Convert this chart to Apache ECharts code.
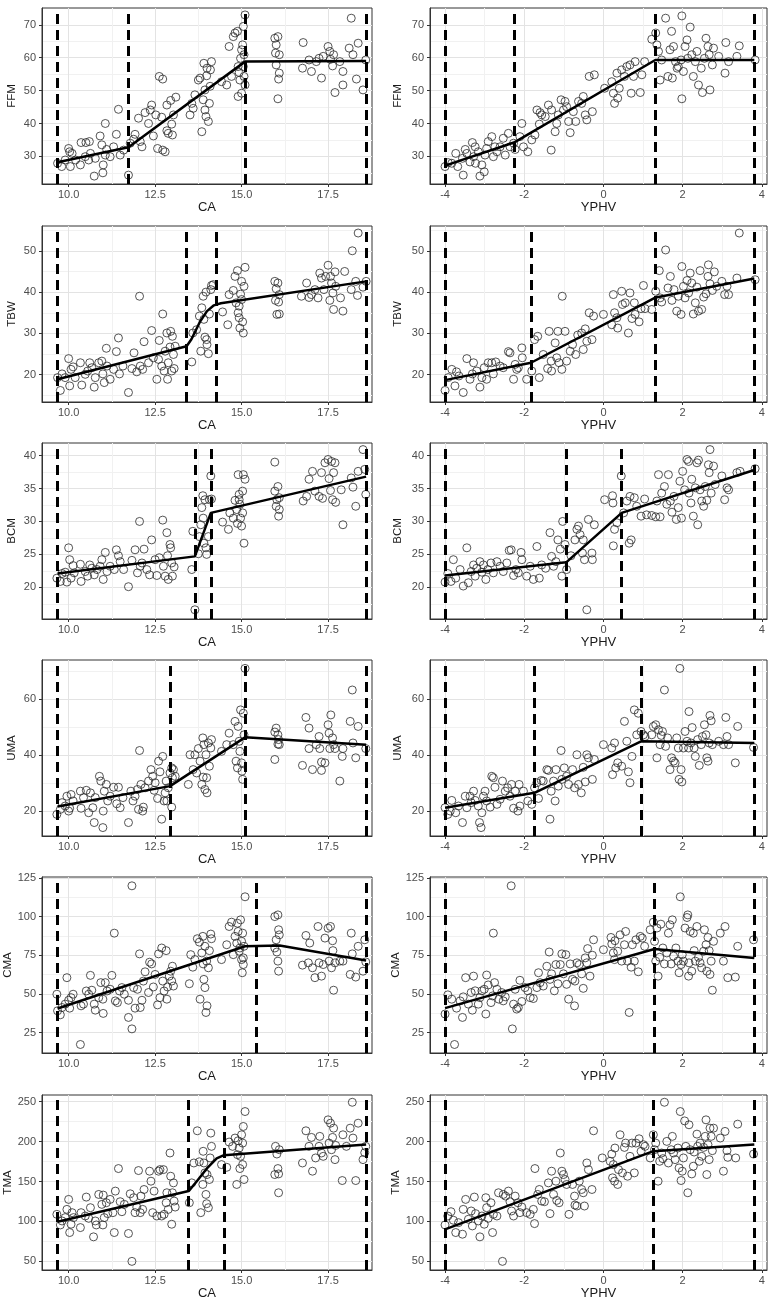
<!DOCTYPE html>
<html>
<head>
<meta charset="utf-8">
<script src="https://cdn.jsdelivr.net/npm/echarts@6/dist/echarts.min.js"></script>
<style>
html,body{margin:0;padding:0;background:#fff;}
#chart{width:774px;height:1301px;}
</style>
</head>
<body>
<div id="chart"></div>
<script>
// ---------- tick labels ----------
const xTicksCA = [10, 12.5, 15, 17.5];
const xMinorCA = [11.25, 13.75, 16.25];
const xTicksYPHV = [-4, -2, 0, 2, 4];
const xMinorYPHV = [-3, -1, 1, 3];
const yTicksFFM = [30, 40, 50, 60, 70];   const yMinorFFM = [25, 35, 45, 55, 65];
const yTicksTBW = [20, 30, 40, 50];       const yMinorTBW = [15, 25, 35, 45, 55];
const yTicksBCM = [20, 25, 30, 35, 40];   const yMinorBCM = [17.5, 22.5, 27.5, 32.5, 37.5];
const yTicksUMA = [20, 40, 60];           const yMinorUMA = [30, 50, 70];
const yTicksCMA = [25, 50, 75, 100, 125]; const yMinorCMA = [37.5, 62.5, 87.5, 112.5];
const yTicksTMA = [50, 100, 150, 200, 250]; const yMinorTMA = [75, 125, 175, 225];

// ---------- scatter data ----------
const ffmCA = [[9.68,27.9],[9.8,26.9],[9.9,28.9],[10.0,32.4],[10.03,31.4],[10.1,30.9],[10.05,26.9],[10.2,28.9],[10.34,27.4],[10.36,34.2],[10.48,29.9],[10.5,34.2],[10.6,34.5],[10.58,28.9],[10.63,30.9],[10.74,24.0],[10.77,29.4],[10.91,36.2],[10.96,33.5],[10.99,25.0],[11.0,27.4],[11.06,40.0],[11.06,30.4],[11.1,32.1],[11.2,29.9],[11.3,32.9],[11.38,36.7],[11.44,44.3],[11.49,30.4],[11.59,31.9],[11.73,24.3],[11.78,34.0],[11.88,35.2],[11.92,36.7],[12.02,41.6],[12.07,34.5],[12.12,32.9],[12.21,43.3],[12.31,40.0],[12.36,44.1],[12.4,45.6],[12.45,36.2],[12.52,42.6],[12.57,32.4],[12.62,54.3],[12.72,53.5],[12.69,41.9],[12.72,31.9],[12.79,31.4],[12.84,37.8],[12.84,45.6],[12.88,37.0],[12.95,47.0],[12.98,39.8],[13.0,36.5],[13.03,42.6],[13.1,48.0],[13.51,42.6],[13.56,46.1],[13.6,44.6],[13.65,48.7],[13.75,53.2],[13.8,53.8],[13.85,37.5],[13.89,47.2],[13.91,58.3],[13.94,50.2],[13.94,44.1],[13.97,42.1],[13.99,54.5],[14.0,56.8],[14.04,40.6],[14.07,46.1],[14.13,58.8],[14.1,56.3],[14.09,51.3],[14.42,52.7],[14.57,51.7],[14.64,63.4],[14.71,54.3],[14.76,66.4],[14.81,67.5],[14.88,68.0],[14.9,57.3],[14.9,48.2],[14.93,55.5],[14.97,59.8],[15.0,62.4],[15.03,63.9],[15.05,69.5],[15.05,57.3],[15.07,54.3],[15.1,73.0],[15.0,49.2],[15.07,60.9],[15.1,51.7],[14.95,53.2],[15.96,65.9],[16.0,63.9],[16.05,66.4],[15.98,61.4],[16.09,60.9],[16.0,57.8],[16.09,55.3],[16.07,53.5],[16.05,47.5],[16.78,64.6],[16.76,56.8],[16.95,59.3],[17.02,55.8],[17.16,58.8],[17.24,59.8],[17.31,53.8],[17.36,60.4],[17.5,63.4],[17.55,61.9],[17.57,59.5],[17.63,57.5],[17.66,60.9],[17.7,49.4],[17.84,58.8],[17.93,55.8],[17.93,51.7],[18.17,72.0],[18.11,62.9],[18.22,60.9],[18.32,53.5],[18.37,64.4],[18.51,50.2],[18.59,59.3]];

const ffmYPHV = [[-4.0,26.9],[-3.92,28.1],[-3.83,27.9],[-3.73,30.9],[-3.68,26.9],[-3.56,29.4],[-3.54,24.3],[-3.49,32.1],[-3.45,30.9],[-3.37,28.3],[-3.31,34.2],[-3.28,29.9],[-3.24,32.9],[-3.23,27.9],[-3.16,31.4],[-3.12,24.0],[-3.07,27.4],[-3.01,25.3],[-2.99,30.4],[-2.95,32.4],[-2.91,34.5],[-2.82,36.0],[-2.78,29.9],[-2.74,32.9],[-2.69,31.4],[-2.61,32.9],[-2.53,35.5],[-2.48,30.4],[-2.4,37.0],[-2.36,32.9],[-2.27,34.0],[-2.23,32.1],[-2.11,36.0],[-2.06,40.0],[-2.02,32.9],[-1.91,31.4],[-1.81,35.0],[-1.73,36.5],[-1.68,44.1],[-1.6,43.3],[-1.62,39.8],[-1.56,42.6],[-1.47,42.1],[-1.39,45.6],[-1.32,31.9],[-1.31,44.1],[-1.22,37.5],[-1.18,40.0],[-1.14,42.6],[-1.07,47.2],[-1.01,44.1],[-0.97,46.7],[-0.93,45.1],[-0.88,40.6],[-0.84,37.2],[-0.76,43.6],[-0.7,40.6],[-0.63,46.7],[-0.55,46.1],[-0.51,48.2],[-0.46,42.6],[-0.42,41.1],[-0.36,54.3],[-0.28,43.6],[-0.23,54.8],[0.03,50.7],[0.21,52.7],[0.25,49.2],[0.28,46.1],[0.34,55.3],[0.36,47.7],[0.4,50.7],[0.46,56.3],[0.53,54.3],[0.59,57.3],[0.67,57.8],[0.7,49.2],[0.76,54.3],[0.8,58.8],[0.93,49.4],[0.97,54.8],[1.04,58.8],[1.22,65.6],[1.32,67.5],[1.35,63.9],[1.39,61.9],[1.43,53.2],[1.47,59.3],[1.57,72.0],[1.63,54.3],[1.68,62.4],[1.72,68.0],[1.74,53.8],[1.77,63.4],[1.82,58.8],[1.86,56.8],[1.89,57.3],[1.96,59.3],[1.98,72.7],[1.98,47.5],[2.02,55.8],[2.06,63.4],[2.11,65.4],[2.13,59.8],[2.19,69.3],[2.23,60.9],[2.27,54.3],[2.32,58.8],[2.36,61.9],[2.4,51.7],[2.47,56.8],[2.5,49.4],[2.55,59.8],[2.59,65.9],[2.64,63.4],[2.67,60.9],[2.69,50.2],[2.75,57.8],[2.78,62.9],[2.91,60.4],[3.07,55.3],[3.09,64.6],[3.16,58.8],[3.37,60.4],[3.43,63.6],[3.83,59.3]];

const tbwCA = [[9.68,19.3],[9.76,16.2],[9.81,20.2],[9.9,19.3],[10.0,23.9],[10.03,17.3],[10.07,21.3],[10.13,21.9],[10.19,19.3],[10.34,22.9],[10.38,17.5],[10.48,20.1],[10.55,20.9],[10.61,22.9],[10.67,21.7],[10.74,17.0],[10.77,19.3],[10.87,22.9],[10.96,23.3],[10.99,20.2],[11.03,18.1],[11.09,26.4],[11.11,22.1],[11.2,18.9],[11.3,21.3],[11.38,25.6],[11.44,28.9],[11.47,20.2],[11.57,22.1],[11.73,15.7],[11.83,21.5],[11.89,25.3],[11.97,20.7],[12.05,39.0],[12.07,22.1],[12.14,21.3],[12.18,28.0],[12.31,22.9],[12.4,30.7],[12.45,24.1],[12.55,18.9],[12.6,23.7],[12.62,28.3],[12.69,22.1],[12.72,34.7],[12.76,20.9],[12.79,25.7],[12.84,30.1],[12.86,18.9],[12.88,22.9],[12.93,26.7],[12.95,30.5],[12.98,20.9],[13.0,29.3],[13.03,24.9],[13.05,21.5],[13.08,26.9],[13.56,23.1],[13.59,30.1],[13.7,30.9],[13.78,34.2],[13.82,25.7],[13.85,36.2],[13.89,39.0],[13.91,33.4],[13.94,29.1],[13.97,40.0],[13.99,28.5],[14.0,27.3],[14.04,25.1],[14.07,34.7],[14.11,40.6],[14.13,41.6],[14.18,41.8],[14.45,35.2],[14.6,32.1],[14.64,39.4],[14.76,40.4],[14.81,43.8],[14.84,37.4],[14.88,45.2],[14.9,35.0],[14.93,33.8],[14.95,31.3],[14.97,39.5],[15.0,42.6],[15.03,32.8],[15.05,30.1],[15.07,41.4],[15.1,46.0],[15.0,38.2],[14.93,36.6],[15.96,42.6],[16.0,40.8],[16.05,42.2],[15.98,38.0],[16.07,37.6],[16.02,34.6],[16.09,34.7],[16.09,39.4],[16.73,39.0],[16.88,42.2],[16.95,38.7],[17.02,39.4],[17.12,40.6],[17.21,38.6],[17.26,44.6],[17.31,43.4],[17.38,40.6],[17.43,43.8],[17.5,46.5],[17.55,38.0],[17.57,43.8],[17.6,42.2],[17.64,39.8],[17.66,35.8],[17.7,44.9],[17.72,41.4],[17.86,38.6],[17.93,35.4],[17.98,45.0],[18.17,40.6],[18.2,50.0],[18.3,42.6],[18.35,39.2],[18.37,54.3],[18.51,41.2],[18.6,42.6]];

const tbwYPHV = [[-4.0,16.2],[-3.92,19.3],[-3.83,21.3],[-3.75,17.3],[-3.71,20.7],[-3.65,19.7],[-3.54,15.7],[-3.45,23.9],[-3.37,18.9],[-3.31,20.2],[-3.28,22.9],[-3.2,20.9],[-3.12,17.0],[-3.07,19.3],[-3.01,21.7],[-2.95,18.9],[-2.91,22.9],[-2.82,22.9],[-2.78,20.2],[-2.72,23.1],[-2.61,22.1],[-2.53,21.7],[-2.4,25.6],[-2.36,25.3],[-2.27,18.9],[-2.23,22.5],[-2.19,21.3],[-2.15,21.7],[-2.06,26.5],[-2.05,24.1],[-1.94,18.9],[-1.81,20.9],[-1.74,28.5],[-1.66,29.3],[-1.62,19.3],[-1.52,24.9],[-1.41,21.5],[-1.37,30.5],[-1.32,23.3],[-1.31,20.9],[-1.22,27.7],[-1.18,24.1],[-1.15,30.5],[-1.12,22.9],[-1.05,21.3],[-1.04,39.0],[-0.97,30.5],[-0.93,23.3],[-0.84,25.7],[-0.78,27.3],[-0.7,24.9],[-0.65,29.6],[-0.55,30.1],[-0.51,26.1],[-0.46,31.1],[-0.42,28.1],[-0.36,35.0],[-0.29,28.5],[-0.25,34.2],[0.0,34.6],[0.21,32.1],[0.25,39.4],[0.28,35.0],[0.34,33.8],[0.36,31.3],[0.46,40.2],[0.48,37.0],[0.55,37.4],[0.63,30.1],[0.67,39.8],[0.72,33.6],[0.78,37.4],[0.8,34.6],[0.9,32.8],[0.95,36.0],[1.01,41.6],[1.05,36.0],[1.22,35.8],[1.32,40.2],[1.41,45.2],[1.43,38.6],[1.47,37.6],[1.57,50.2],[1.63,41.0],[1.69,43.8],[1.73,38.0],[1.78,40.6],[1.85,35.4],[1.89,39.0],[1.96,34.6],[1.98,46.2],[2.02,41.4],[2.06,38.6],[2.11,42.8],[2.15,39.8],[2.19,44.6],[2.23,42.2],[2.27,34.7],[2.32,37.4],[2.36,41.2],[2.4,35.4],[2.44,45.2],[2.48,35.8],[2.53,38.8],[2.59,39.6],[2.64,43.8],[2.65,46.6],[2.69,42.0],[2.75,40.4],[2.8,44.9],[2.86,41.4],[2.99,42.6],[3.06,39.4],[3.12,41.4],[3.16,39.4],[3.37,43.4],[3.43,54.3],[3.83,43.0]];

const bcmCA = [[9.66,21.4],[9.76,20.9],[9.81,22.1],[9.9,22.3],[9.95,20.8],[10.0,26.0],[10.03,24.2],[10.07,21.4],[10.13,23.3],[10.16,22.2],[10.34,23.5],[10.36,20.9],[10.48,22.4],[10.55,21.7],[10.61,23.4],[10.67,22.9],[10.74,21.9],[10.82,22.7],[10.91,23.2],[10.96,24.2],[11.0,21.2],[11.06,25.3],[11.11,22.4],[11.2,23.2],[11.32,22.7],[11.38,25.7],[11.44,24.8],[11.49,23.9],[11.59,22.7],[11.73,20.1],[11.83,24.1],[11.92,25.7],[11.99,22.2],[12.05,30.0],[12.07,23.2],[12.12,23.7],[12.18,25.8],[12.26,22.7],[12.34,21.9],[12.4,27.2],[12.5,24.2],[12.55,21.8],[12.62,24.5],[12.72,30.2],[12.74,23.2],[12.79,21.7],[12.84,28.3],[12.86,24.8],[12.88,21.2],[12.93,26.5],[12.95,26.0],[12.98,23.7],[13.0,21.7],[13.05,23.1],[13.56,22.7],[13.59,28.5],[13.65,16.6],[13.75,25.1],[13.78,27.7],[13.82,29.5],[13.85,32.1],[13.88,33.9],[13.89,30.5],[13.91,26.7],[13.94,33.3],[13.97,26.0],[13.99,25.0],[14.04,27.7],[14.07,33.3],[14.11,36.9],[14.13,33.4],[14.45,29.9],[14.62,28.8],[14.66,31.3],[14.76,30.5],[14.81,33.2],[14.86,31.8],[14.88,29.7],[14.9,37.1],[14.93,34.1],[14.95,32.6],[14.97,30.5],[15.0,29.3],[15.03,34.6],[15.05,37.1],[15.07,26.7],[15.1,36.4],[15.03,31.3],[14.93,33.3],[15.96,39.0],[15.96,34.6],[16.0,32.3],[16.05,35.3],[16.07,30.8],[16.02,33.3],[16.09,31.8],[16.09,33.6],[16.78,33.1],[16.88,33.8],[16.95,36.4],[17.05,37.6],[17.12,34.6],[17.24,33.8],[17.31,37.4],[17.34,33.5],[17.41,38.9],[17.5,39.4],[17.53,36.5],[17.57,34.7],[17.6,39.1],[17.63,33.3],[17.66,37.4],[17.7,38.9],[17.72,32.9],[17.88,34.8],[17.93,29.5],[18.17,36.6],[18.22,35.2],[18.3,32.3],[18.37,37.6],[18.51,40.9],[18.59,34.1],[18.56,37.9]];

const bcmYPHV = [[-4.0,20.8],[-3.93,22.1],[-3.85,20.9],[-3.79,24.2],[-3.73,21.4],[-3.62,22.7],[-3.54,20.2],[-3.45,26.0],[-3.41,20.7],[-3.34,22.4],[-3.28,23.4],[-3.24,21.7],[-3.2,22.9],[-3.12,23.9],[-3.07,22.3],[-3.03,23.4],[-2.97,21.2],[-2.92,22.7],[-2.84,23.7],[-2.78,22.2],[-2.69,23.9],[-2.61,23.2],[-2.53,22.4],[-2.44,23.7],[-2.38,25.6],[-2.33,25.7],[-2.27,21.8],[-2.21,22.7],[-2.15,22.2],[-2.08,25.3],[-2.06,24.2],[-1.94,21.7],[-1.85,23.2],[-1.77,21.2],[-1.68,26.2],[-1.62,21.4],[-1.56,23.4],[-1.46,22.9],[-1.35,28.3],[-1.31,24.7],[-1.26,23.2],[-1.2,23.9],[-1.15,27.2],[-1.09,25.8],[-1.05,21.7],[-1.03,30.0],[-0.97,26.5],[-0.93,22.7],[-0.82,24.8],[-0.72,27.2],[-0.67,28.8],[-0.63,29.3],[-0.59,28.0],[-0.53,25.2],[-0.51,27.2],[-0.48,24.2],[-0.42,16.6],[-0.38,30.3],[-0.29,25.2],[-0.28,24.2],[-0.23,29.5],[0.03,33.3],[0.23,33.9],[0.24,32.8],[0.25,26.3],[0.28,28.8],[0.34,29.8],[0.45,36.9],[0.51,31.3],[0.59,33.1],[0.65,26.7],[0.7,27.2],[0.67,33.8],[0.78,33.6],[0.84,32.3],[0.95,30.8],[1.04,33.4],[1.09,31.0],[1.22,30.9],[1.32,30.7],[1.35,33.1],[1.39,37.1],[1.43,30.7],[1.47,34.3],[1.54,35.3],[1.6,32.6],[1.64,37.1],[1.69,33.1],[1.73,31.4],[1.78,33.8],[1.84,30.3],[1.89,32.1],[1.93,36.1],[1.97,30.5],[2.0,37.6],[2.05,34.8],[2.11,39.4],[2.15,39.1],[2.16,34.3],[2.21,32.8],[2.23,36.4],[2.27,30.8],[2.32,35.1],[2.36,38.9],[2.38,29.5],[2.4,39.3],[2.44,34.8],[2.48,33.1],[2.53,32.3],[2.57,35.3],[2.61,33.2],[2.65,38.6],[2.67,37.4],[2.69,40.9],[2.72,34.3],[2.78,38.4],[2.82,35.6],[2.99,36.9],[3.06,33.3],[3.12,35.1],[3.16,34.8],[3.37,37.4],[3.45,37.6],[3.83,38.0]];

const umaCA = [[9.66,18.9],[9.76,20.7],[9.81,23.1],[9.9,21.9],[9.95,25.4],[10.0,20.1],[10.03,21.1],[10.07,26.0],[10.13,23.7],[10.34,27.2],[10.36,21.1],[10.43,24.9],[10.51,27.5],[10.58,19.5],[10.63,26.6],[10.7,21.3],[10.74,16.0],[10.77,24.9],[10.89,32.5],[10.93,30.8],[10.99,14.2],[11.0,20.1],[11.03,27.2],[11.09,29.6],[11.13,23.7],[11.2,25.4],[11.3,28.6],[11.39,22.7],[11.44,28.6],[11.49,21.3],[11.57,24.9],[11.73,16.0],[11.8,27.2],[11.86,23.7],[11.92,25.4],[11.99,27.8],[12.02,20.7],[12.05,41.7],[12.09,29.6],[12.14,20.1],[12.16,21.5],[12.21,28.4],[12.31,30.8],[12.38,34.9],[12.43,32.5],[12.47,27.5],[12.5,30.2],[12.57,24.6],[12.6,37.9],[12.64,34.1],[12.69,17.2],[12.72,39.6],[12.76,23.7],[12.79,26.6],[12.82,30.8],[12.84,23.7],[12.88,28.4],[12.93,33.7],[12.98,35.5],[12.98,21.5],[13.0,32.0],[13.03,34.9],[13.08,32.5],[13.46,29.6],[13.51,40.2],[13.6,34.9],[13.65,40.2],[13.7,33.7],[13.75,42.4],[13.8,37.9],[13.85,29.6],[13.88,46.2],[13.89,32.2],[13.91,43.8],[13.94,27.8],[13.97,40.2],[13.99,32.0],[14.0,26.6],[14.04,44.4],[14.07,36.1],[14.11,42.6],[14.13,45.6],[14.42,41.4],[14.57,43.8],[14.64,47.9],[14.76,43.8],[14.81,52.1],[14.84,37.9],[14.88,35.5],[14.9,50.3],[14.93,45.0],[14.95,41.4],[14.97,56.2],[15.0,37.3],[15.03,31.4],[15.05,55.0],[15.07,47.3],[15.1,71.0],[15.01,34.3],[15.96,38.5],[15.96,48.3],[16.0,49.7],[16.05,47.3],[16.05,44.0],[16.09,43.8],[16.07,45.6],[16.76,36.4],[16.86,53.5],[16.95,49.7],[16.95,42.4],[17.05,34.9],[17.16,43.8],[17.24,46.7],[17.26,42.4],[17.31,37.6],[17.31,34.6],[17.41,37.3],[17.5,50.9],[17.53,47.9],[17.55,42.4],[17.58,54.4],[17.63,46.2],[17.66,43.8],[17.7,42.4],[17.84,30.8],[17.93,42.4],[17.91,39.6],[18.14,52.1],[18.2,63.3],[18.22,44.4],[18.3,39.1],[18.37,50.3],[18.59,42.4]];

const umaYPHV = [[-4.0,21.3],[-3.93,18.9],[-3.87,20.1],[-3.83,23.9],[-3.73,19.5],[-3.66,21.9],[-3.56,16.0],[-3.49,25.4],[-3.45,21.3],[-3.37,25.4],[-3.34,23.1],[-3.28,27.2],[-3.24,23.9],[-3.16,21.9],[-3.13,16.0],[-3.09,14.2],[-3.07,19.5],[-3.03,25.4],[-2.99,27.2],[-2.95,23.7],[-2.86,21.5],[-2.82,32.5],[-2.78,32.0],[-2.74,28.6],[-2.69,22.5],[-2.61,24.3],[-2.55,30.8],[-2.48,27.2],[-2.42,28.4],[-2.36,25.4],[-2.32,29.6],[-2.27,21.1],[-2.23,27.2],[-2.16,20.1],[-2.13,29.6],[-2.11,21.9],[-2.02,27.2],[-1.91,23.7],[-1.81,22.5],[-1.74,28.4],[-1.68,30.2],[-1.64,24.6],[-1.57,31.0],[-1.52,30.8],[-1.43,34.9],[-1.39,34.6],[-1.35,17.2],[-1.32,27.2],[-1.26,30.8],[-1.22,23.7],[-1.2,34.9],[-1.14,29.0],[-1.07,41.7],[-1.05,31.4],[-0.99,35.5],[-0.93,32.5],[-0.88,29.6],[-0.78,34.9],[-0.73,28.4],[-0.67,40.2],[-0.63,29.6],[-0.56,26.6],[-0.51,35.7],[-0.46,30.5],[-0.42,40.2],[-0.38,39.1],[-0.28,31.4],[-0.23,38.5],[0.0,43.8],[0.21,42.6],[0.23,33.1],[0.28,44.4],[0.31,35.5],[0.36,37.3],[0.46,36.1],[0.53,52.1],[0.59,45.0],[0.63,34.1],[0.67,30.2],[0.72,39.6],[0.78,56.2],[0.84,47.3],[0.88,55.0],[0.95,48.5],[1.01,47.3],[1.05,46.7],[1.22,47.3],[1.26,50.3],[1.32,50.9],[1.35,39.1],[1.39,49.1],[1.43,43.8],[1.46,47.1],[1.49,48.5],[1.54,63.3],[1.57,43.2],[1.62,46.2],[1.68,34.9],[1.72,39.1],[1.77,37.9],[1.81,37.3],[1.85,46.2],[1.89,42.6],[1.91,31.4],[1.93,71.0],[1.96,34.9],[1.98,30.5],[2.02,42.6],[2.06,48.5],[2.11,45.0],[2.15,42.6],[2.16,55.6],[2.21,44.4],[2.24,49.9],[2.29,42.6],[2.32,39.6],[2.38,45.6],[2.42,36.4],[2.47,43.8],[2.5,46.7],[2.55,50.9],[2.59,47.3],[2.61,39.1],[2.64,37.9],[2.67,44.4],[2.69,54.2],[2.72,52.3],[2.75,43.8],[2.91,45.0],[3.03,43.8],[3.09,53.5],[3.12,46.7],[3.16,43.8],[3.33,37.3],[3.39,50.3],[3.79,42.8]];

const cmaCA = [[9.66,49.8],[9.68,39.1],[9.76,36.5],[9.81,41.2],[9.9,43.4],[9.95,60.5],[10.0,45.9],[10.03,40.8],[10.07,47.6],[10.13,49.8],[10.34,17.3],[10.36,42.3],[10.43,43.4],[10.51,51.9],[10.58,49.8],[10.63,62.0],[10.67,52.4],[10.74,43.4],[10.77,39.5],[10.87,47.6],[10.93,57.3],[10.99,46.6],[11.0,37.4],[11.06,57.3],[11.11,51.9],[11.2,53.0],[11.25,62.0],[11.32,89.3],[11.35,45.5],[11.41,44.4],[11.47,51.9],[11.54,54.1],[11.61,49.8],[11.73,45.9],[11.73,34.8],[11.83,119.9],[11.83,27.4],[11.88,54.1],[11.92,40.8],[11.99,53.0],[12.05,75.9],[12.07,41.2],[12.12,45.9],[12.16,58.3],[12.21,64.3],[12.31,50.9],[12.34,70.5],[12.4,69.4],[12.45,54.5],[12.5,62.6],[12.57,42.9],[12.6,75.9],[12.64,47.6],[12.69,79.7],[12.72,58.3],[12.76,51.9],[12.82,78.0],[12.84,46.6],[12.86,54.5],[12.91,61.5],[12.95,64.7],[12.98,58.3],[13.0,67.9],[13.03,55.1],[13.49,56.6],[13.53,75.4],[13.59,67.3],[13.65,72.2],[13.72,85.7],[13.78,83.5],[13.8,46.6],[13.85,76.5],[13.88,87.2],[13.89,69.4],[13.91,59.4],[13.94,80.8],[13.94,54.1],[13.97,38.0],[13.99,71.2],[14.0,42.3],[14.04,66.9],[14.07,78.0],[14.11,88.7],[14.13,85.7],[14.42,72.2],[14.57,81.8],[14.64,93.6],[14.71,96.4],[14.76,75.4],[14.81,87.2],[14.86,82.9],[14.88,95.7],[14.9,90.4],[14.93,77.6],[14.95,79.7],[14.97,97.9],[15.0,84.0],[15.02,63.7],[15.03,89.3],[15.05,73.3],[15.05,69.0],[15.07,80.8],[15.1,112.8],[15.0,72.2],[15.96,100.0],[15.96,79.7],[16.0,85.0],[16.05,101.1],[16.07,91.5],[16.05,71.2],[16.07,64.7],[16.02,77.1],[16.09,88.2],[16.76,68.6],[16.86,87.8],[16.93,70.1],[16.97,82.9],[17.05,66.9],[17.12,60.5],[17.21,93.6],[17.24,70.1],[17.31,61.5],[17.36,69.0],[17.41,86.1],[17.5,92.5],[17.53,71.2],[17.57,93.6],[17.6,66.9],[17.63,84.4],[17.64,78.0],[17.66,52.4],[17.7,70.1],[17.84,71.2],[17.93,71.2],[18.17,89.3],[18.14,62.6],[18.2,75.9],[18.3,60.9],[18.37,80.8],[18.56,85.0],[18.51,64.7],[18.59,70.7]];

const cmaYPHV = [[-4.0,37.0],[-3.93,49.4],[-3.83,46.6],[-3.76,17.3],[-3.71,40.8],[-3.62,45.5],[-3.56,34.8],[-3.54,48.1],[-3.48,60.5],[-3.41,43.4],[-3.34,50.9],[-3.31,39.5],[-3.28,61.5],[-3.24,52.0],[-3.16,43.4],[-3.12,47.6],[-3.07,52.0],[-3.01,53.0],[-2.97,37.0],[-2.95,62.2],[-2.91,55.8],[-2.84,44.4],[-2.8,48.7],[-2.78,89.3],[-2.75,57.3],[-2.69,53.0],[-2.64,46.6],[-2.57,50.9],[-2.53,45.5],[-2.48,48.1],[-2.33,119.9],[-2.3,27.4],[-2.27,43.4],[-2.23,53.0],[-2.19,40.2],[-2.15,41.2],[-2.11,58.8],[-2.06,45.1],[-1.98,54.1],[-1.91,52.0],[-1.85,47.6],[-1.77,47.0],[-1.68,54.1],[-1.64,63.7],[-1.6,57.3],[-1.52,55.1],[-1.43,67.9],[-1.37,77.1],[-1.35,59.4],[-1.31,63.0],[-1.24,52.0],[-1.2,69.0],[-1.15,56.6],[-1.09,69.0],[-1.05,75.9],[-1.01,63.0],[-0.95,75.4],[-0.93,56.2],[-0.88,46.6],[-0.84,69.4],[-0.78,59.4],[-0.73,42.3],[-0.72,58.3],[-0.67,70.1],[-0.61,69.0],[-0.55,63.0],[-0.51,53.6],[-0.46,73.3],[-0.42,70.1],[-0.4,79.3],[-0.34,61.5],[-0.28,75.0],[-0.25,85.0],[0.0,78.6],[0.19,86.5],[0.21,82.3],[0.25,76.5],[0.28,72.2],[0.29,84.4],[0.36,77.6],[0.42,88.2],[0.46,71.2],[0.53,81.8],[0.56,90.4],[0.61,71.2],[0.65,38.0],[0.7,67.3],[0.73,81.8],[0.78,71.2],[0.82,85.0],[0.88,64.3],[0.93,87.2],[0.98,86.1],[1.04,80.8],[1.18,91.5],[1.26,96.4],[1.29,84.0],[1.32,71.2],[1.35,92.6],[1.38,61.5],[1.42,73.7],[1.45,95.1],[1.5,79.7],[1.54,69.4],[1.6,76.5],[1.64,89.3],[1.68,94.7],[1.71,69.4],[1.74,97.9],[1.77,74.4],[1.83,79.7],[1.88,71.2],[1.91,63.7],[1.94,112.8],[1.96,69.0],[1.99,75.4],[2.02,71.2],[2.06,92.6],[2.11,99.4],[2.13,101.1],[2.15,61.5],[2.16,70.1],[2.19,90.4],[2.23,64.7],[2.27,89.3],[2.29,78.0],[2.32,71.2],[2.36,93.6],[2.4,73.7],[2.44,70.1],[2.48,66.9],[2.53,77.6],[2.55,91.5],[2.59,81.8],[2.61,64.7],[2.64,86.5],[2.67,78.0],[2.69,62.6],[2.72,71.2],[2.75,52.4],[2.78,84.0],[2.95,89.3],[3.03,71.2],[3.07,93.6],[3.14,60.5],[3.33,60.9],[3.39,80.8],[3.79,85.0]];

const tmaCA = [[9.66,108.9],[9.76,95.6],[9.81,100.6],[9.9,104.8],[10.0,127.6],[9.95,115.1],[10.03,86.1],[10.07,96.5],[10.1,111.0],[10.14,104.8],[10.34,92.3],[10.36,111.0],[10.48,106.8],[10.51,130.5],[10.58,103.9],[10.63,117.2],[10.72,80.7],[10.77,100.6],[10.8,95.6],[10.87,133.8],[10.96,121.4],[10.99,95.6],[11.0,133.0],[11.03,104.8],[11.09,123.4],[11.13,109.8],[11.2,127.6],[11.28,111.0],[11.32,86.1],[11.35,138.0],[11.44,166.2],[11.49,124.7],[11.54,112.2],[11.61,121.4],[11.73,84.9],[11.78,134.6],[11.83,50.0],[11.88,129.7],[11.92,111.0],[11.97,118.0],[12.02,163.7],[12.07,111.0],[12.09,131.7],[12.14,115.1],[12.18,140.0],[12.34,162.9],[12.38,150.4],[12.43,111.0],[12.47,138.0],[12.55,106.8],[12.6,162.9],[12.64,164.9],[12.69,106.8],[12.74,164.9],[12.76,108.9],[12.82,123.4],[12.84,135.9],[12.88,115.1],[12.93,185.7],[12.95,156.6],[12.98,96.5],[13.0,135.9],[13.03,148.3],[13.05,125.5],[13.08,118.0],[13.49,123.4],[13.56,148.3],[13.62,173.2],[13.72,213.5],[13.78,174.7],[13.82,111.0],[13.88,146.3],[13.89,187.8],[13.91,173.2],[13.94,160.8],[13.97,133.8],[13.99,122.2],[14.0,158.7],[14.04,117.2],[14.07,152.5],[14.11,210.6],[14.13,194.0],[14.09,179.5],[14.42,171.2],[14.57,167.8],[14.64,199.4],[14.74,194.0],[14.81,204.4],[14.86,146.3],[14.88,183.6],[14.9,201.0],[14.93,191.9],[14.97,181.5],[15.0,208.5],[15.03,171.2],[15.05,218.9],[15.07,152.5],[15.1,237.6],[14.95,166.2],[15.03,198.1],[15.96,158.7],[15.98,194.0],[16.02,184.4],[16.05,166.2],[16.07,159.5],[16.07,135.9],[16.09,189.8],[16.76,173.2],[16.86,213.5],[16.95,194.0],[17.02,205.2],[17.05,162.9],[17.14,179.5],[17.24,194.0],[17.26,206.5],[17.31,185.7],[17.36,181.5],[17.5,227.2],[17.53,198.1],[17.57,223.0],[17.6,189.8],[17.63,205.2],[17.66,216.8],[17.7,177.4],[17.72,195.2],[17.91,151.2],[17.93,208.5],[18.03,194.0],[18.14,216.8],[18.2,249.2],[18.22,204.4],[18.3,151.2],[18.37,223.0],[18.51,177.4],[18.56,186.1],[18.59,194.0]];

const tmaYPHV = [[-4.0,95.6],[-3.93,106.8],[-3.85,112.2],[-3.79,101.5],[-3.73,86.1],[-3.66,98.5],[-3.56,84.0],[-3.54,115.1],[-3.48,127.6],[-3.41,102.7],[-3.34,113.1],[-3.31,94.4],[-3.26,130.5],[-3.23,109.8],[-3.16,100.6],[-3.12,80.7],[-3.07,106.8],[-3.01,96.5],[-2.97,129.7],[-2.95,117.2],[-2.91,103.9],[-2.84,123.4],[-2.8,86.1],[-2.78,108.9],[-2.69,106.8],[-2.65,135.9],[-2.55,50.0],[-2.53,133.8],[-2.47,131.7],[-2.4,138.0],[-2.36,124.7],[-2.32,113.1],[-2.27,106.8],[-2.23,131.7],[-2.16,123.4],[-2.11,111.0],[-2.06,118.0],[-1.94,111.0],[-1.85,108.9],[-1.77,115.1],[-1.74,97.3],[-1.73,166.2],[-1.66,133.8],[-1.62,140.0],[-1.56,125.5],[-1.49,124.7],[-1.39,148.3],[-1.35,109.8],[-1.31,162.9],[-1.26,133.8],[-1.2,150.4],[-1.18,126.3],[-1.12,123.4],[-1.09,185.7],[-1.05,162.9],[-1.01,158.7],[-0.97,152.5],[-0.93,146.3],[-0.87,108.9],[-0.78,146.3],[-0.73,131.7],[-0.72,120.5],[-0.67,119.3],[-0.61,150.4],[-0.55,140.0],[-0.51,135.9],[-0.48,119.3],[-0.42,173.2],[-0.38,164.9],[-0.29,140.0],[-0.25,213.5],[-0.03,179.5],[0.17,175.3],[0.21,184.4],[0.23,154.6],[0.25,171.2],[0.28,150.4],[0.29,191.9],[0.36,146.3],[0.38,164.9],[0.42,208.5],[0.48,160.8],[0.53,192.7],[0.56,198.1],[0.61,156.6],[0.67,181.5],[0.72,198.1],[0.78,160.8],[0.82,198.1],[0.9,203.5],[0.95,187.8],[1.01,196.1],[1.05,194.0],[1.18,179.5],[1.26,208.5],[1.29,189.8],[1.32,198.1],[1.38,150.4],[1.42,175.3],[1.47,185.7],[1.5,178.6],[1.54,249.2],[1.6,200.2],[1.64,173.2],[1.71,189.8],[1.74,206.5],[1.77,185.7],[1.81,177.4],[1.88,191.9],[1.91,167.0],[1.94,237.6],[1.96,151.2],[1.99,162.9],[2.02,179.5],[2.05,225.9],[2.08,194.0],[2.13,135.9],[2.16,221.0],[2.19,189.8],[2.23,159.5],[2.27,169.1],[2.29,186.9],[2.36,209.3],[2.38,194.0],[2.42,175.3],[2.44,198.1],[2.48,181.5],[2.53,192.7],[2.57,206.5],[2.59,227.2],[2.61,158.7],[2.64,196.1],[2.67,177.4],[2.69,216.8],[2.72,206.5],[2.75,188.6],[2.78,216.8],[2.95,204.4],[3.03,162.9],[3.07,212.7],[3.12,188.6],[3.14,180.3],[3.34,179.5],[3.39,221.8],[3.79,184.4]];

// ---------- fitted piecewise lines ----------
const fitFfmCA = [[9.68,28.2],[11.73,32.8],[15.1,58.8],[18.6,59.0]];
const fitFfmYPHV = [[-4.0,27.2],[-2.26,34.2],[1.31,59.3],[3.81,59.3]];
const fitTbwCA = [[9.68,18.9],[13.41,26.9],[13.55,28.6],[13.8,32.9],[14.0,35.4],[14.2,36.8],[14.4,37.3],[18.6,42.6]];
const fitTbwYPHV = [[-4.0,18.7],[-1.83,22.9],[1.32,38.7],[3.81,43.3]];
const fitBcmCA = [[9.68,22.1],[13.65,24.7],[14.11,31.3],[18.6,36.8]];
const fitBcmYPHV = [[-4.0,21.8],[-0.94,23.8],[0.46,31.3],[3.81,37.8]];
const fitUmaCA = [[9.68,21.7],[12.93,29.0],[15.1,46.4],[18.6,43.8]];
const fitUmaYPHV = [[-4.0,21.3],[-1.74,26.6],[0.95,45.0],[3.81,44.4]];
const fitCmaCA = [[9.68,40.6],[15.1,80.8],[16.1,81.3],[18.6,71.6]];
const fitCmaYPHV = [[-4.0,40.8],[1.29,79.0],[3.81,73.3]];
const fitTmaCA = [[9.68,99.6],[13.47,138.0],[13.7,150.0],[13.99,166.0],[14.28,179.0],[14.49,183.0],[18.6,196.3]];
const fitTmaYPHV = [[-4.0,90.0],[1.26,188.0],[3.81,196.3]];

// ---------- breakpoints (dashed lines) ----------
const knFfmCA = [9.68, 11.73, 15.1, 18.6];
const knFfmYPHV = [-4.0, -2.26, 1.31, 3.81];
const knTbwCA = [9.68, 13.41, 14.26, 18.6];
const knTbwYPHV = [-4.0, -1.83, 1.32, 3.81];
const knBcmCA = [9.68, 13.65, 14.11, 18.6];
const knBcmYPHV = [-4.0, -0.94, 0.46, 3.81];
const knUmaCA = [9.68, 12.93, 15.1, 18.6];
const knUmaYPHV = [-4.0, -1.74, 0.95, 3.81];
const knCmaCA = [9.68, 15.41, 18.6];
const knCmaYPHV = [-4.0, 1.29, 3.81];
const knTmaCA = [9.68, 13.47, 14.49, 18.6];
const knTmaYPHV = [-4.0, 1.26, 3.81];

// ---------- assemble ----------
const FONT = '"Liberation Sans", Arial, Helvetica, sans-serif';
const rowsDef = [
  {name:'FFM', range:[21.6,75.1], ticks:yTicksFFM, minor:yMinorFFM, panels:[[ffmCA,fitFfmCA,knFfmCA],[ffmYPHV,fitFfmYPHV,knFfmYPHV]]},
  {name:'TBW', range:[13.4,56.0], ticks:yTicksTBW, minor:yMinorTBW, panels:[[tbwCA,fitTbwCA,knTbwCA],[tbwYPHV,fitTbwYPHV,knTbwYPHV]]},
  {name:'BCM', range:[15.2,41.9], ticks:yTicksBCM, minor:yMinorBCM, panels:[[bcmCA,fitBcmCA,knBcmCA],[bcmYPHV,fitBcmYPHV,knBcmYPHV]]},
  {name:'UMA', range:[11.2,74.0], ticks:yTicksUMA, minor:yMinorUMA, panels:[[umaCA,fitUmaCA,knUmaCA],[umaYPHV,fitUmaYPHV,knUmaYPHV]]},
  {name:'CMA', range:[11.8,125.6], ticks:yTicksCMA, minor:yMinorCMA, panels:[[cmaCA,fitCmaCA,knCmaCA],[cmaYPHV,fitCmaYPHV,knCmaYPHV]]},
  {name:'TMA', range:[39.2,258.3], ticks:yTicksTMA, minor:yMinorTMA, panels:[[tmaCA,fitTmaCA,knTmaCA],[tmaYPHV,fitTmaYPHV,knTmaYPHV]]}
];
const colsDef = [
  {name:'CA', range:[9.23,18.77], ticks:xTicksCA, minor:xMinorCA, fmt:v=>Number(v).toFixed(1), left:42, width:330, yGap:24},
  {name:'YPHV', range:[-4.38,4.13], ticks:xTicksYPHV, minor:xMinorYPHV, fmt:v=>String(v), left:430, width:337, yGap:26}
];
const rowTops = [8, 226, 443, 660, 877, 1095];
const panelH = 176;

const grids=[], xAxes=[], yAxes=[], series=[];
let gi = 0;
rowsDef.forEach((r, ri) => {
  colsDef.forEach((c, ci) => {
    const [pts, fit, kn] = r.panels[ci];
    grids.push({left:c.left, top:rowTops[ri], width:c.width, height:panelH, show:true,
      borderColor:'#333', borderWidth:1, backgroundColor:'#fff'});
    xAxes.push({gridIndex:gi, type:'value', min:c.range[0], max:c.range[1],
      name:c.name, nameLocation:'middle', nameGap:17,
      nameTextStyle:{fontFamily:FONT, fontSize:13, color:'#1a1a1a'},
      axisLine:{show:true, onZero:false, lineStyle:{color:'#333', width:1}},
      axisTick:{show:true, length:3, lineStyle:{color:'#333'}, customValues:c.ticks},
      axisLabel:{show:true, customValues:c.ticks, formatter:c.fmt, margin:5, fontFamily:FONT, fontSize:11, color:'#4d4d4d'},
      splitLine:{show:true, lineStyle:{color:'#e3e3e3', width:1}}});
    xAxes.push({gridIndex:gi, type:'value', min:c.range[0], max:c.range[1], position:'top',
      axisLine:{show:false, onZero:false}, axisTick:{show:false, customValues:c.minor}, axisLabel:{show:false, customValues:c.minor},
      splitLine:{show:true, lineStyle:{color:'#f1f1f1', width:1}}});
    yAxes.push({gridIndex:gi, type:'value', min:r.range[0], max:r.range[1],
      name:r.name, nameLocation:'middle', nameGap:c.yGap,
      nameTextStyle:{fontFamily:FONT, fontSize:11.5, color:'#1a1a1a'},
      axisLine:{show:true, onZero:false, lineStyle:{color:'#333', width:1}},
      axisTick:{show:true, length:3, lineStyle:{color:'#333'}, customValues:r.ticks},
      axisLabel:{show:true, customValues:r.ticks, margin:6, fontFamily:FONT, fontSize:11, color:'#4d4d4d'},
      splitLine:{show:true, lineStyle:{color:'#e3e3e3', width:1}}});
    yAxes.push({gridIndex:gi, type:'value', min:r.range[0], max:r.range[1], position:'right',
      axisLine:{show:false, onZero:false}, axisTick:{show:false, customValues:r.minor}, axisLabel:{show:false, customValues:r.minor},
      splitLine:{show:true, lineStyle:{color:'#f1f1f1', width:1}}});
    const xi = gi*2, yi = gi*2;
    series.push({type:'scatter', xAxisIndex:xi, yAxisIndex:yi, data:pts, symbol:'circle', symbolSize:8,
      itemStyle:{color:'rgba(0,0,0,0)', borderColor:'#2b2b2b', borderWidth:1}, silent:true, z:2});
    series.push({type:'line', xAxisIndex:xi, yAxisIndex:yi, data:fit, symbol:'none', showSymbol:false,
      lineStyle:{color:'#000', width:2.5}, silent:true, z:3,
      markLine:{silent:true, symbol:['none','none'], label:{show:false},
        lineStyle:{color:'#000', width:3, type:[10,6]},
        emphasis:{disabled:true},
        data:kn.map(v=>({xAxis:v}))}});
    gi++;
  });
});

const chart = echarts.init(document.getElementById('chart'), null, {renderer:'canvas'});
chart.setOption({
  animation:false,
  backgroundColor:'#fff',
  grid:grids, xAxis:xAxes, yAxis:yAxes, series:series
});
</script>
</body>
</html>
